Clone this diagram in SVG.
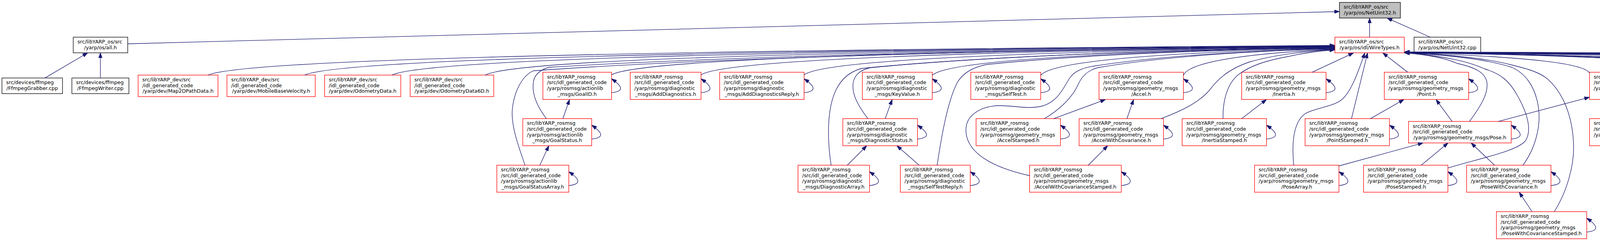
<svg xmlns="http://www.w3.org/2000/svg" width="6897" height="616" viewBox="0 0 6897 616">
<defs>
<style>
.n rect{fill:#fff;stroke:#ff0000;stroke-width:1.33}
.k rect{fill:#fff;stroke:#000;stroke-width:1.33}
.r rect{fill:#bfbfbf;stroke:#000;stroke-width:1.33}
text{font-family:"DejaVu Sans",Verdana,sans-serif;font-size:12.85px;fill:#000}
.m{text-anchor:middle}
#edges path{fill:none;stroke:#191970;stroke-width:1.33;marker-end:url(#ah)}
</style>
<marker id="ah" viewBox="0 0 10 7" refX="10" refY="3.5" markerUnits="userSpaceOnUse" markerWidth="13.3" markerHeight="9.3" orient="auto"><path d="M0,0L10,3.5L0,7z" fill="#191970" stroke="#191970" stroke-width="0.8"/></marker>
</defs>
<rect width="6897" height="616" fill="#fff"/>
<g id="nodes">
<g id="n_netuint32h" class="r"><rect x="3429" y="6.2" width="156" height="40"/><text x="3439.7" y="22.2">src/libYARP_os/src</text><text class="m" x="3507" y="36.9">/yarp/os/NetUint32.h</text></g>
<g id="n_allh" class="k"><rect x="187.5" y="95" width="139.5" height="40"/><text x="198.2" y="111">src/libYARP_os/src</text><text class="m" x="257.2" y="125.7">/yarp/os/all.h</text></g>
<g id="n_wiretypes" class="n"><rect x="3417.4" y="95" width="177.6" height="40"/><text x="3428.1" y="111">src/libYARP_os/src</text><text class="m" x="3506.2" y="125.7">/yarp/os/idl/WireTypes.h</text></g>
<g id="n_netuint32cpp" class="k"><rect x="3620" y="95" width="170.6" height="40"/><text x="3630.7" y="111">src/libYARP_os/src</text><text class="m" x="3705.3" y="125.7">/yarp/os/NetUint32.cpp</text></g>
<g id="n_ffmpeggrabber" class="k"><rect x="5" y="199.4" width="155" height="40"/><text x="15.7" y="215.4">src/devices/ffmpeg</text><text class="m" x="82.5" y="230">/FfmpegGrabber.cpp</text></g>
<g id="n_ffmpegwriter" class="k"><rect x="184" y="199.4" width="146" height="40"/><text x="194.7" y="215.4">src/devices/ffmpeg</text><text class="m" x="257" y="230">/FfmpegWriter.cpp</text></g>
<g id="n_map2dpath" class="n"><rect x="353.6" y="191.9" width="204.4" height="55"/><text x="364.3" y="208">src/libYARP_dev/src</text><text x="364.3" y="222.7">/idl_generated_code</text><text class="m" x="455.8" y="237.4">/yarp/dev/Map2DPathData.h</text></g>
<g id="n_mobilebase" class="n"><rect x="581" y="191.9" width="226" height="55"/><text x="591.7" y="208">src/libYARP_dev/src</text><text x="591.7" y="222.7">/idl_generated_code</text><text class="m" x="694" y="237.4">/yarp/dev/MobileBaseVelocity.h</text></g>
<g id="n_odometry" class="n"><rect x="831" y="191.9" width="195" height="55"/><text x="841.7" y="208">src/libYARP_dev/src</text><text x="841.7" y="222.7">/idl_generated_code</text><text class="m" x="928.5" y="237.4">/yarp/dev/OdometryData.h</text></g>
<g id="n_odometry6d" class="n"><rect x="1050" y="191.9" width="214" height="55"/><text x="1060.7" y="208">src/libYARP_dev/src</text><text x="1060.7" y="222.7">/idl_generated_code</text><text class="m" x="1157" y="237.4">/yarp/dev/OdometryData6D.h</text></g>
<g id="n_goalid" class="n"><rect x="1389.7" y="184.6" width="175.9" height="69.6"/><text x="1400.4" y="200.7">src/libYARP_rosmsg</text><text x="1400.4" y="215.4">/src/idl_generated_code</text><text x="1400.4" y="230">/yarp/rosmsg/actionlib</text><text class="m" x="1477.6" y="244.7">_msgs/GoalID.h</text></g>
<g id="n_adddiag" class="n"><rect x="1613.4" y="184.6" width="181.2" height="69.6"/><text x="1624.1" y="200.7">src/libYARP_rosmsg</text><text x="1624.1" y="215.4">/src/idl_generated_code</text><text x="1624.1" y="230">/yarp/rosmsg/diagnostic</text><text class="m" x="1704" y="244.7">_msgs/AddDiagnostics.h</text></g>
<g id="n_adddiagreply" class="n"><rect x="1842.4" y="184.6" width="216.1" height="69.6"/><text x="1853.1" y="200.7">src/libYARP_rosmsg</text><text x="1853.1" y="215.4">/src/idl_generated_code</text><text x="1853.1" y="230">/yarp/rosmsg/diagnostic</text><text class="m" x="1950.4" y="244.7">_msgs/AddDiagnosticsReply.h</text></g>
<g id="n_keyvalue" class="n"><rect x="2207.6" y="184.6" width="179" height="69.6"/><text x="2218.3" y="200.7">src/libYARP_rosmsg</text><text x="2218.3" y="215.4">/src/idl_generated_code</text><text x="2218.3" y="230">/yarp/rosmsg/diagnostic</text><text class="m" x="2297.1" y="244.7">_msgs/KeyValue.h</text></g>
<g id="n_selftest" class="n"><rect x="2485.3" y="184.6" width="179" height="69.6"/><text x="2496" y="200.7">src/libYARP_rosmsg</text><text x="2496" y="215.4">/src/idl_generated_code</text><text x="2496" y="230">/yarp/rosmsg/diagnostic</text><text class="m" x="2574.8" y="244.7">_msgs/SelfTest.h</text></g>
<g id="n_accel" class="n"><rect x="2813.5" y="184.6" width="216" height="69.6"/><text x="2824.2" y="200.7">src/libYARP_rosmsg</text><text x="2824.2" y="215.4">/src/idl_generated_code</text><text x="2824.2" y="230">/yarp/rosmsg/geometry_msgs</text><text class="m" x="2921.5" y="244.7">/Accel.h</text></g>
<g id="n_inertia" class="n"><rect x="3178.6" y="184.6" width="216" height="69.6"/><text x="3189.3" y="200.7">src/libYARP_rosmsg</text><text x="3189.3" y="215.4">/src/idl_generated_code</text><text x="3189.3" y="230">/yarp/rosmsg/geometry_msgs</text><text class="m" x="3286.6" y="244.7">/Inertia.h</text></g>
<g id="n_point" class="n"><rect x="3543.8" y="184.6" width="216" height="69.6"/><text x="3554.5" y="200.7">src/libYARP_rosmsg</text><text x="3554.5" y="215.4">/src/idl_generated_code</text><text x="3554.5" y="230">/yarp/rosmsg/geometry_msgs</text><text class="m" x="3651.8" y="244.7">/Point.h</text></g>
<g id="n_quaternion" class="n"><rect x="4069.2" y="184.6" width="216" height="69.6"/><text x="4079.9" y="200.7">src/libYARP_rosmsg</text><text x="4079.9" y="215.4">/src/idl_generated_code</text><text x="4079.9" y="230">/yarp/rosmsg/geometry_msgs</text><text class="m" x="4177.2" y="244.7">/Quaternion.h</text></g>
<g id="n_point32" class="n"><rect x="4586.6" y="184.6" width="216" height="69.6"/><text x="4597.3" y="200.7">src/libYARP_rosmsg</text><text x="4597.3" y="215.4">/src/idl_generated_code</text><text x="4597.3" y="230">/yarp/rosmsg/geometry_msgs</text><text class="m" x="4694.6" y="244.7">/Point32.h</text></g>
<g id="n_pose2d" class="n"><rect x="4850.4" y="184.6" width="216" height="69.6"/><text x="4861.1" y="200.7">src/libYARP_rosmsg</text><text x="4861.1" y="215.4">/src/idl_generated_code</text><text x="4861.1" y="230">/yarp/rosmsg/geometry_msgs</text><text class="m" x="4958.4" y="244.7">/Pose2D.h</text></g>
<g id="n_twist" class="n"><rect x="5165.2" y="184.6" width="216" height="69.6"/><text x="5175.9" y="200.7">src/libYARP_rosmsg</text><text x="5175.9" y="215.4">/src/idl_generated_code</text><text x="5175.9" y="230">/yarp/rosmsg/geometry_msgs</text><text class="m" x="5273.2" y="244.7">/Twist.h</text></g>
<g id="n_audiobuf" class="n"><rect x="5479.5" y="191.9" width="232.1" height="55"/><text x="5490.2" y="208">src/libYARP_dev/src</text><text x="5490.2" y="222.7">/idl_generated_code</text><text class="m" x="5595.5" y="237.4">/yarp/dev/audioBufferSizeData.h</text></g>
<g id="n_audioplayer" class="n"><rect x="5735.3" y="191.9" width="219.2" height="55"/><text x="5746" y="208">src/libYARP_dev/src</text><text x="5746" y="222.7">/idl_generated_code</text><text class="m" x="5844.9" y="237.4">/yarp/dev/AudioPlayerStatus.h</text></g>
<g id="n_audiorecorder" class="n"><rect x="5978.6" y="191.9" width="234.8" height="55"/><text x="5989.3" y="208">src/libYARP_dev/src</text><text x="5989.3" y="222.7">/idl_generated_code</text><text class="m" x="6096" y="237.4">/yarp/dev/AudioRecorderStatus.h</text></g>
<g id="n_jointdata" class="n"><rect x="6237" y="191.9" width="192.4" height="55"/><text x="6247.7" y="208">src/libYARP_dev/src</text><text x="6247.7" y="222.7">/idl_generated_code</text><text class="m" x="6333.2" y="237.4">/yarp/dev/impl/jointData.h</text></g>
<g id="n_laserscan" class="n"><rect x="6453.4" y="191.9" width="183.6" height="55"/><text x="6464.1" y="208">src/libYARP_dev/src</text><text x="6464.1" y="222.7">/idl_generated_code</text><text class="m" x="6545.2" y="237.4">/yarp/dev/LaserScan2D.h</text></g>
<g id="n_map2dloc" class="n"><rect x="6660.5" y="191.9" width="231.2" height="55"/><text x="6671.2" y="208">src/libYARP_dev/src</text><text x="6671.2" y="222.7">/idl_generated_code</text><text class="m" x="6776.1" y="237.4">/yarp/dev/Map2DLocationData.h</text></g>
<g id="n_goalstatus" class="n"><rect x="1338.4" y="303.3" width="176.3" height="69.2"/><text x="1349.1" y="319.2">src/libYARP_rosmsg</text><text x="1349.1" y="333.9">/src/idl_generated_code</text><text x="1349.1" y="348.5">/yarp/rosmsg/actionlib</text><text class="m" x="1426.5" y="363.2">_msgs/GoalStatus.h</text></g>
<g id="n_diagstatus" class="n"><rect x="2157.6" y="303.3" width="191.1" height="69.2"/><text x="2168.3" y="319.2">src/libYARP_rosmsg</text><text x="2168.3" y="333.9">/src/idl_generated_code</text><text x="2168.3" y="348.5">/yarp/rosmsg/diagnostic</text><text class="m" x="2253.1" y="363.2">_msgs/DiagnosticStatus.h</text></g>
<g id="n_accelstamped" class="n"><rect x="2498.7" y="303.3" width="216" height="69.2"/><text x="2509.4" y="319.2">src/libYARP_rosmsg</text><text x="2509.4" y="333.9">/src/idl_generated_code</text><text x="2509.4" y="348.5">/yarp/rosmsg/geometry_msgs</text><text class="m" x="2606.7" y="363.2">/AccelStamped.h</text></g>
<g id="n_accelwcov" class="n"><rect x="2762.5" y="303.3" width="216" height="69.2"/><text x="2773.2" y="319.2">src/libYARP_rosmsg</text><text x="2773.2" y="333.9">/src/idl_generated_code</text><text x="2773.2" y="348.5">/yarp/rosmsg/geometry_msgs</text><text class="m" x="2870.5" y="363.2">/AccelWithCovariance.h</text></g>
<g id="n_inertiastamped" class="n"><rect x="3026.3" y="303.3" width="216" height="69.2"/><text x="3037" y="319.2">src/libYARP_rosmsg</text><text x="3037" y="333.9">/src/idl_generated_code</text><text x="3037" y="348.5">/yarp/rosmsg/geometry_msgs</text><text class="m" x="3134.3" y="363.2">/InertiaStamped.h</text></g>
<g id="n_pointstamped" class="n"><rect x="3341" y="303.3" width="216" height="69.2"/><text x="3351.7" y="319.2">src/libYARP_rosmsg</text><text x="3351.7" y="333.9">/src/idl_generated_code</text><text x="3351.7" y="348.5">/yarp/rosmsg/geometry_msgs</text><text class="m" x="3449" y="363.2">/PointStamped.h</text></g>
<g id="n_pose" class="n"><rect x="3605.8" y="310.4" width="262.9" height="55"/><text x="3616.5" y="326.5">src/libYARP_rosmsg</text><text x="3616.5" y="341.2">/src/idl_generated_code</text><text class="m" x="3737.3" y="355.9">/yarp/rosmsg/geometry_msgs/Pose.h</text></g>
<g id="n_quatstamped" class="n"><rect x="4069.2" y="303.3" width="216" height="69.2"/><text x="4079.9" y="319.2">src/libYARP_rosmsg</text><text x="4079.9" y="333.9">/src/idl_generated_code</text><text x="4079.9" y="348.5">/yarp/rosmsg/geometry_msgs</text><text class="m" x="4177.2" y="363.2">/QuaternionStamped.h</text></g>
<g id="n_transform" class="n"><rect x="4333" y="303.3" width="216" height="69.2"/><text x="4343.7" y="319.2">src/libYARP_rosmsg</text><text x="4343.7" y="333.9">/src/idl_generated_code</text><text x="4343.7" y="348.5">/yarp/rosmsg/geometry_msgs</text><text class="m" x="4441" y="363.2">/Transform.h</text></g>
<g id="n_polygon" class="n"><rect x="4698.7" y="303.3" width="216" height="69.2"/><text x="4709.4" y="319.2">src/libYARP_rosmsg</text><text x="4709.4" y="333.9">/src/idl_generated_code</text><text x="4709.4" y="348.5">/yarp/rosmsg/geometry_msgs</text><text class="m" x="4806.7" y="363.2">/Polygon.h</text></g>
<g id="n_twiststamped" class="n"><rect x="5031.7" y="303.3" width="216" height="69.2"/><text x="5042.4" y="319.2">src/libYARP_rosmsg</text><text x="5042.4" y="333.9">/src/idl_generated_code</text><text x="5042.4" y="348.5">/yarp/rosmsg/geometry_msgs</text><text class="m" x="5139.7" y="363.2">/TwistStamped.h</text></g>
<g id="n_twistwcov" class="n"><rect x="5321" y="303.3" width="216" height="69.2"/><text x="5331.7" y="319.2">src/libYARP_rosmsg</text><text x="5331.7" y="333.9">/src/idl_generated_code</text><text x="5331.7" y="348.5">/yarp/rosmsg/geometry_msgs</text><text class="m" x="5429" y="363.2">/TwistWithCovariance.h</text></g>
<g id="n_goalstatusarray" class="n"><rect x="1271.9" y="422.3" width="184.3" height="69"/><text x="1282.6" y="438.1">src/libYARP_rosmsg</text><text x="1282.6" y="452.8">/src/idl_generated_code</text><text x="1282.6" y="467.4">/yarp/rosmsg/actionlib</text><text class="m" x="1364.1" y="482.1">_msgs/GoalStatusArray.h</text></g>
<g id="n_diagarray" class="n"><rect x="2042.9" y="422.3" width="183" height="69"/><text x="2053.6" y="438.1">src/libYARP_rosmsg</text><text x="2053.6" y="452.8">/src/idl_generated_code</text><text x="2053.6" y="467.4">/yarp/rosmsg/diagnostic</text><text class="m" x="2134.4" y="482.1">_msgs/DiagnosticArray.h</text></g>
<g id="n_selftestreply" class="n"><rect x="2304.9" y="422.3" width="179" height="69"/><text x="2315.6" y="438.1">src/libYARP_rosmsg</text><text x="2315.6" y="452.8">/src/idl_generated_code</text><text x="2315.6" y="467.4">/yarp/rosmsg/diagnostic</text><text class="m" x="2394.4" y="482.1">_msgs/SelfTestReply.h</text></g>
<g id="n_awcs" class="n"><rect x="2635.7" y="422.3" width="234.8" height="69"/><text x="2646.4" y="438.1">src/libYARP_rosmsg</text><text x="2646.4" y="452.8">/src/idl_generated_code</text><text x="2646.4" y="467.4">/yarp/rosmsg/geometry_msgs</text><text class="m" x="2753.1" y="482.1">/AccelWithCovarianceStamped.h</text></g>
<g id="n_posearray" class="n"><rect x="3211.6" y="422.3" width="216" height="69"/><text x="3222.3" y="438.1">src/libYARP_rosmsg</text><text x="3222.3" y="452.8">/src/idl_generated_code</text><text x="3222.3" y="467.4">/yarp/rosmsg/geometry_msgs</text><text class="m" x="3319.6" y="482.1">/PoseArray.h</text></g>
<g id="n_posestamped" class="n"><rect x="3490.6" y="422.3" width="216" height="69"/><text x="3501.3" y="438.1">src/libYARP_rosmsg</text><text x="3501.3" y="452.8">/src/idl_generated_code</text><text x="3501.3" y="467.4">/yarp/rosmsg/geometry_msgs</text><text class="m" x="3598.6" y="482.1">/PoseStamped.h</text></g>
<g id="n_posewcov" class="n"><rect x="3754.5" y="422.3" width="216" height="69"/><text x="3765.2" y="438.1">src/libYARP_rosmsg</text><text x="3765.2" y="452.8">/src/idl_generated_code</text><text x="3765.2" y="467.4">/yarp/rosmsg/geometry_msgs</text><text class="m" x="3862.5" y="482.1">/PoseWithCovariance.h</text></g>
<g id="n_transformstamped" class="n"><rect x="4358.5" y="422.3" width="216" height="69"/><text x="4369.2" y="438.1">src/libYARP_rosmsg</text><text x="4369.2" y="452.8">/src/idl_generated_code</text><text x="4369.2" y="467.4">/yarp/rosmsg/geometry_msgs</text><text class="m" x="4466.5" y="482.1">/TransformStamped.h</text></g>
<g id="n_polygonstamped" class="n"><rect x="4673.2" y="422.3" width="216" height="69"/><text x="4683.9" y="438.1">src/libYARP_rosmsg</text><text x="4683.9" y="452.8">/src/idl_generated_code</text><text x="4683.9" y="467.4">/yarp/rosmsg/geometry_msgs</text><text class="m" x="4781.2" y="482.1">/PolygonStamped.h</text></g>
<g id="n_pwcs" class="n"><rect x="3830.8" y="541" width="231.2" height="69.3"/><text x="3841.5" y="556.9">src/libYARP_rosmsg</text><text x="3841.5" y="571.6">/src/idl_generated_code</text><text x="3841.5" y="586.2">/yarp/rosmsg/geometry_msgs</text><text class="m" x="3946.4" y="600.9">/PoseWithCovarianceStamped.h</text></g>
</g>
<g id="edges">
<path d="M327,112 L3429,29.5"/>
<path d="M3506.2,95 L3506.2,46.2"/>
<path d="M3661.6,95 L3551,46.2"/>
<path d="M115,199.4 L224.5,135"/>
<path d="M257,199.4 L257,135"/>
<path d="M532.6,191.8 C619.1,156.3 1397.9,130.8 3417,116"/>
<path d="M780,191.8 C859.1,156.8 1571.1,131.6 3417,116.5"/>
<path d="M1003.6,191.8 C1076,157.2 1727.6,132.4 3417,117"/>
<path d="M1242.4,191.8 C1307.6,157.7 1894.8,133.2 3417,117.5"/>
<path d="M1565.6,191.3 C1621.1,158.8 2121,133.5 3417,119"/>
<path d="M1794.6,191.3 C1843.3,159.2 2281.3,134 3417,119.5"/>
<path d="M2058.5,191.3 C2099.3,159.7 2466.1,134.3 3417,120"/>
<path d="M2386.6,192.5 C2417.5,161.7 2695.7,135.7 3417,121.5"/>
<path d="M2664.3,192.5 C2686.9,162.6 2890.1,136.3 3417,122.5"/>
<path d="M3029.5,192.5 C3041.1,164.2 3145.8,139.1 3417,125.5"/>
<path d="M1344,422.3 C1330,380 1306,320 1312,275 C1317,235 1335,195 1365,181 C1672.8,158.6 2288.4,130.8 3417,118"/>
<path d="M1398.7,303.3 C1375,272 1360,238 1366,207 C1370,188 1385,178 1405,172 C1706.8,153.1 2310.4,129.8 3417,118.5"/>
<path d="M2127.7,422.3 C2118,360 2116,280 2140,230 C2155,200 2175,184 2205,175 C2386.8,156.5 2750.4,131.6 3417,120.5"/>
<path d="M2221.9,303.3 C2198,272 2180,242 2184,212 C2188,190 2203,179 2228,173 C2406.4,155.5 2763.1,131.5 3417,121"/>
<path d="M2399,422.3 C2410,350 2425,262 2450,212 C2465,186 2490,172 2525,165 C2658.8,151 2926.4,131 3417,122"/>
<path d="M2635.7,449 C2560,432 2478,400 2473,338 C2469,296 2510,270 2560,270 C2600,270 2632,280 2668,271 C2708,260 2722,225 2738,200 C2750,182 2770,174 2800,169 C2892.6,154.3 3077.7,133.4 3417,123.5"/>
<path d="M2673.7,303.3 C2710,282 2745,250 2760,216 C2770,194 2785,180 2810,173 C2901,157.3 3083.2,134 3417,124.5"/>
<path d="M2971.9,303.3 C3030,282 3070,260 3095,232 C3115,206 3140,178 3200,158 C3232.6,148.6 3297.7,133.4 3417,126.5"/>
<path d="M3131,303.3 C3130,262 3140,215 3170,191 C3200,168 3240,155 3300,144 C3317.6,140 3352.7,131.8 3417,127.5"/>
<path d="M3359,184.6 L3465,135.3"/>
<path d="M3312,422.3 C3307,370 3310,312 3342,290 C3370,275 3418,272 3438,252 C3462,228 3478,180 3494,135.3"/>
<path d="M3459.8,303.3 L3501,135.3"/>
<path d="M3603.6,184.6 L3540,135.3"/>
<path d="M6691,191.7 C6598.2,162.6 5762.5,140.9 3595.5,132.6"/>
<path d="M6475.6,191.7 C6389.2,162.8 5611.7,141.3 3595.5,132.8"/>
<path d="M6260,191.7 C6180.1,163 5460.8,141.7 3595.5,133"/>
<path d="M6008.5,191.7 C5936.1,163.3 5284.8,142.1 3595.5,133.2"/>
<path d="M5763,191.7 C5698,163.5 5112.9,142.5 3595.5,133.4"/>
<path d="M5503.6,191.7 C5446.4,163.7 4931.3,142.9 3595.5,133.6"/>
<path d="M5165.2,186.6 C5118.1,161.4 4694.4,142.7 3595.5,134"/>
<path d="M4850.4,184.6 C4812.8,160.7 4474.1,143.1 3595.5,134.2"/>
<path d="M4586.6,187.8 C4556.9,162.9 4289.4,144.6 3595.5,134.5"/>
<path d="M4069.2,186.6 C4055,162.9 3927.2,145.5 3595.5,134.9"/>
<path d="M3762,310.4 C3790,272 3812,238 3806,208 C3800,184 3775,172 3730,162 C3709.9,152.6 3669.7,141 3595.5,135"/>
<path d="M3706.7,429.4 C3800,402 3885,385 3905,360 C3925,330 3905,280 3885,245 C3865,208 3842,188 3800,176 C3769.4,161.7 3708.2,143.2 3595.5,135"/>
<path d="M3898.7,422.3 C3930,380 3946,322 3938,272 C3930,222 3906,188 3870,172 C3828.9,158.9 3746.7,142 3595.5,135"/>
<path d="M3979,541 C4010,492 4032,422 4028,362 C4024,292 4000,236 3962,202 C3940,184 3910,176 3870,166 C3828.9,154.8 3746.7,141.4 3595.5,135"/>
<path d="M4269,303.3 C4310,272 4340,232 4332,202 C4326,182 4300,170 4245,158 C4147.7,149.4 3952.9,139.4 3595.5,134.8"/>
<path d="M4430,303.3 C4410,262 4385,216 4352,188 C4320,165 4260,158 4200,152 C4109.4,145.4 3928.2,138.8 3595.5,134.7"/>
<path d="M4539,422.3 C4580,386 4600,342 4590,306 C4580,276 4540,274 4505,265 C4470,255 4450,216 4420,193 C4390,172 4330,160 4250,153 C4151.9,146 3955.7,139 3595.5,134.6"/>
<path d="M4698.7,304.5 C4640,286 4580,266 4560,236 C4545,210 4535,186 4490,177 C4440,168 4380,162 4300,156 C4194.4,147.6 3983.2,138.8 3595.5,134.4"/>
<path d="M4741.5,422.3 C4700,376 4650,322 4612,297 C4572,277 4510,280 4476,250 C4450,226 4430,192 4392,176 C4350,162 4300,158 4250,155 C4151.9,147 3955.7,138.6 3595.5,134.3"/>
<path d="M5142.4,303.3 C5141,252 5126,206 5097,183 C5070,165 5000,160 4900,155 C4704.4,146.6 4313.2,137.8 3595.5,134.1"/>
<path d="M5438,303.3 C5446,262 5445,212 5416,183 C5390,166 5300,160 5170,156 C4933.9,146.9 4461.7,137.2 3595.5,133.8"/>
<path d="M1441,303.3 L1458,254.5"/>
<path d="M1382,422.3 L1405,372.5"/>
<path d="M2266,303.3 L2284,254.5"/>
<path d="M2169,422.3 L2219,372.5"/>
<path d="M2353,422.3 L2296,372.5"/>
<path d="M2697,303.3 L2830,254.5"/>
<path d="M2884.8,303.3 L2902,254.5"/>
<path d="M2786,422.3 L2835.7,372.5"/>
<path d="M3178.6,303.3 L3242,254.5"/>
<path d="M3508,303.3 L3594,254.5"/>
<path d="M3717.4,310.4 L3676.3,254.5"/>
<path d="M3835.7,310.4 L4069.2,248.5"/>
<path d="M3428,424 L3643,365.4"/>
<path d="M3638.4,422.3 L3707,365.4"/>
<path d="M3826,422.3 L3766,365.4"/>
<path d="M3922,541 L3889,491.3"/>
<path d="M4177,303.3 L4177,254.2"/>
<path d="M4365,303.3 L4262,254.2"/>
<path d="M4459,422.3 L4450,372.5"/>
<path d="M4773.7,303.3 L4726.8,254.2"/>
<path d="M4788,422.3 L4798,372.5"/>
<path d="M5179,303.3 L5234.8,254.2"/>
<path d="M5384.4,303.3 L5324,254.2"/>
<path d="M1565.6,236.9 C1601.6,233.4 1590.6,218.4 1565.6,201.4"/>
<path d="M1794.6,236.9 C1830.6,233.4 1819.6,218.4 1794.6,201.4"/>
<path d="M2058.5,236.9 C2094.5,233.4 2083.5,218.4 2058.5,201.4"/>
<path d="M2386.6,236.9 C2422.6,233.4 2411.6,218.4 2386.6,201.4"/>
<path d="M2664.3,236.9 C2700.3,233.4 2689.3,218.4 2664.3,201.4"/>
<path d="M3029.5,236.9 C3065.5,233.4 3054.5,218.4 3029.5,201.4"/>
<path d="M3394.6,236.9 C3430.6,233.4 3419.6,218.4 3394.6,201.4"/>
<path d="M3759.8,236.9 C3795.8,233.4 3784.8,218.4 3759.8,201.4"/>
<path d="M4285.2,236.9 C4321.2,233.4 4310.2,218.4 4285.2,201.4"/>
<path d="M4802.6,236.9 C4838.6,233.4 4827.6,218.4 4802.6,201.4"/>
<path d="M5066.4,236.9 C5102.4,233.4 5091.4,218.4 5066.4,201.4"/>
<path d="M5381.2,236.9 C5417.2,233.4 5406.2,218.4 5381.2,201.4"/>
<path d="M1514.7,355.4 C1550.7,351.9 1539.7,336.9 1514.7,319.9"/>
<path d="M2348.7,355.4 C2384.7,351.9 2373.7,336.9 2348.7,319.9"/>
<path d="M2714.7,355.4 C2750.7,351.9 2739.7,336.9 2714.7,319.9"/>
<path d="M2978.5,355.4 C3014.5,351.9 3003.5,336.9 2978.5,319.9"/>
<path d="M3242.3,355.4 C3278.3,351.9 3267.3,336.9 3242.3,319.9"/>
<path d="M3557,355.4 C3593,351.9 3582,336.9 3557,319.9"/>
<path d="M3868.7,355.4 C3904.7,351.9 3893.7,336.9 3868.7,319.9"/>
<path d="M4285.2,355.4 C4321.2,351.9 4310.2,336.9 4285.2,319.9"/>
<path d="M4549,355.4 C4585,351.9 4574,336.9 4549,319.9"/>
<path d="M4914.7,355.4 C4950.7,351.9 4939.7,336.9 4914.7,319.9"/>
<path d="M5247.7,355.4 C5283.7,351.9 5272.7,336.9 5247.7,319.9"/>
<path d="M5537,355.4 C5573,351.9 5562,336.9 5537,319.9"/>
<path d="M1456.2,474.3 C1492.2,470.8 1481.2,455.8 1456.2,438.8"/>
<path d="M2225.9,474.3 C2261.9,470.8 2250.9,455.8 2225.9,438.8"/>
<path d="M2483.9,474.3 C2519.9,470.8 2508.9,455.8 2483.9,438.8"/>
<path d="M2870.5,474.3 C2906.5,470.8 2895.5,455.8 2870.5,438.8"/>
<path d="M3427.6,474.3 C3463.6,470.8 3452.6,455.8 3427.6,438.8"/>
<path d="M3706.6,474.3 C3742.6,470.8 3731.6,455.8 3706.6,438.8"/>
<path d="M3970.5,474.3 C4006.5,470.8 3995.5,455.8 3970.5,438.8"/>
<path d="M4574.5,474.3 C4610.5,470.8 4599.5,455.8 4574.5,438.8"/>
<path d="M4889.2,474.3 C4925.2,470.8 4914.2,455.8 4889.2,438.8"/>
<path d="M4062,593.1 C4098,589.6 4087,574.6 4062,557.6"/>
</g>
</svg>
